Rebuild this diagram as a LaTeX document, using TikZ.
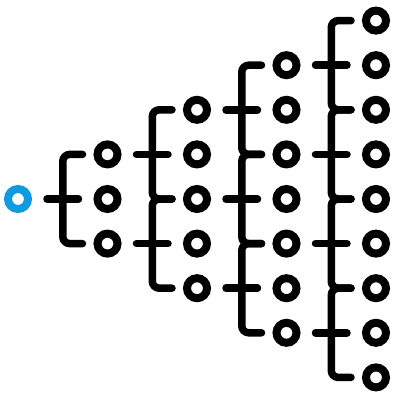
\documentclass[tikz,border=0pt]{standalone}
\usetikzlibrary{calc}
\definecolor{rootblue}{RGB}{16,155,222}
\begin{document}
\begin{tikzpicture}[x=1pt,y=-1pt,
  ring/.style={circle,draw=black,line width=8pt,minimum size=20pt,inner sep=0pt},
  rootring/.style={ring,draw=rootblue},
  conn/.style={line width=7.5pt,line cap=round,line join=round},
  link/.style={conn,shorten <=15pt,shorten >=15pt},
  barpath/.style={conn,rounded corners=7pt}]
\useasboundingbox (0,0) rectangle (400,400);
\node[rootring] (n0x0) at (18,199) {};
\foreach \lv in {1,...,4}{
  \pgfmathtruncatemacro\nn{2*\lv}
  \foreach \ii in {0,...,\nn}{
    \node[ring] (n\lv x\ii) at ({18+89.5*\lv},{199+44.6*(\ii-\lv)}) {};
  }
}
% straight links parent -> child
\foreach \lv in {1,...,4}{
  \pgfmathtruncatemacro\pl{\lv-1}
  \foreach \m in {0,...,\pl}{
    \pgfmathtruncatemacro\ii{2*\m}
    \pgfmathtruncatemacro\jj{2*\m+1}
    \draw[link] (n\pl x\ii) -- (n\lv x\jj);
  }
}
% bracket bars
\foreach \lv in {1,...,4}{
  \pgfmathtruncatemacro\pl{\lv-1}
  \foreach \m in {0,...,\pl}{
    \pgfmathtruncatemacro\ii{2*\m}
    \pgfmathtruncatemacro\jj{2*\m+2}
    \draw[barpath] ([xshift=-25pt]n\lv x\ii.center) -- ([xshift=-44.75pt]n\lv x\ii.center)
      -- ([xshift=-44.75pt]n\lv x\jj.center) -- ([xshift=-25pt]n\lv x\jj.center);
  }
}
\end{tikzpicture}
\end{document}
